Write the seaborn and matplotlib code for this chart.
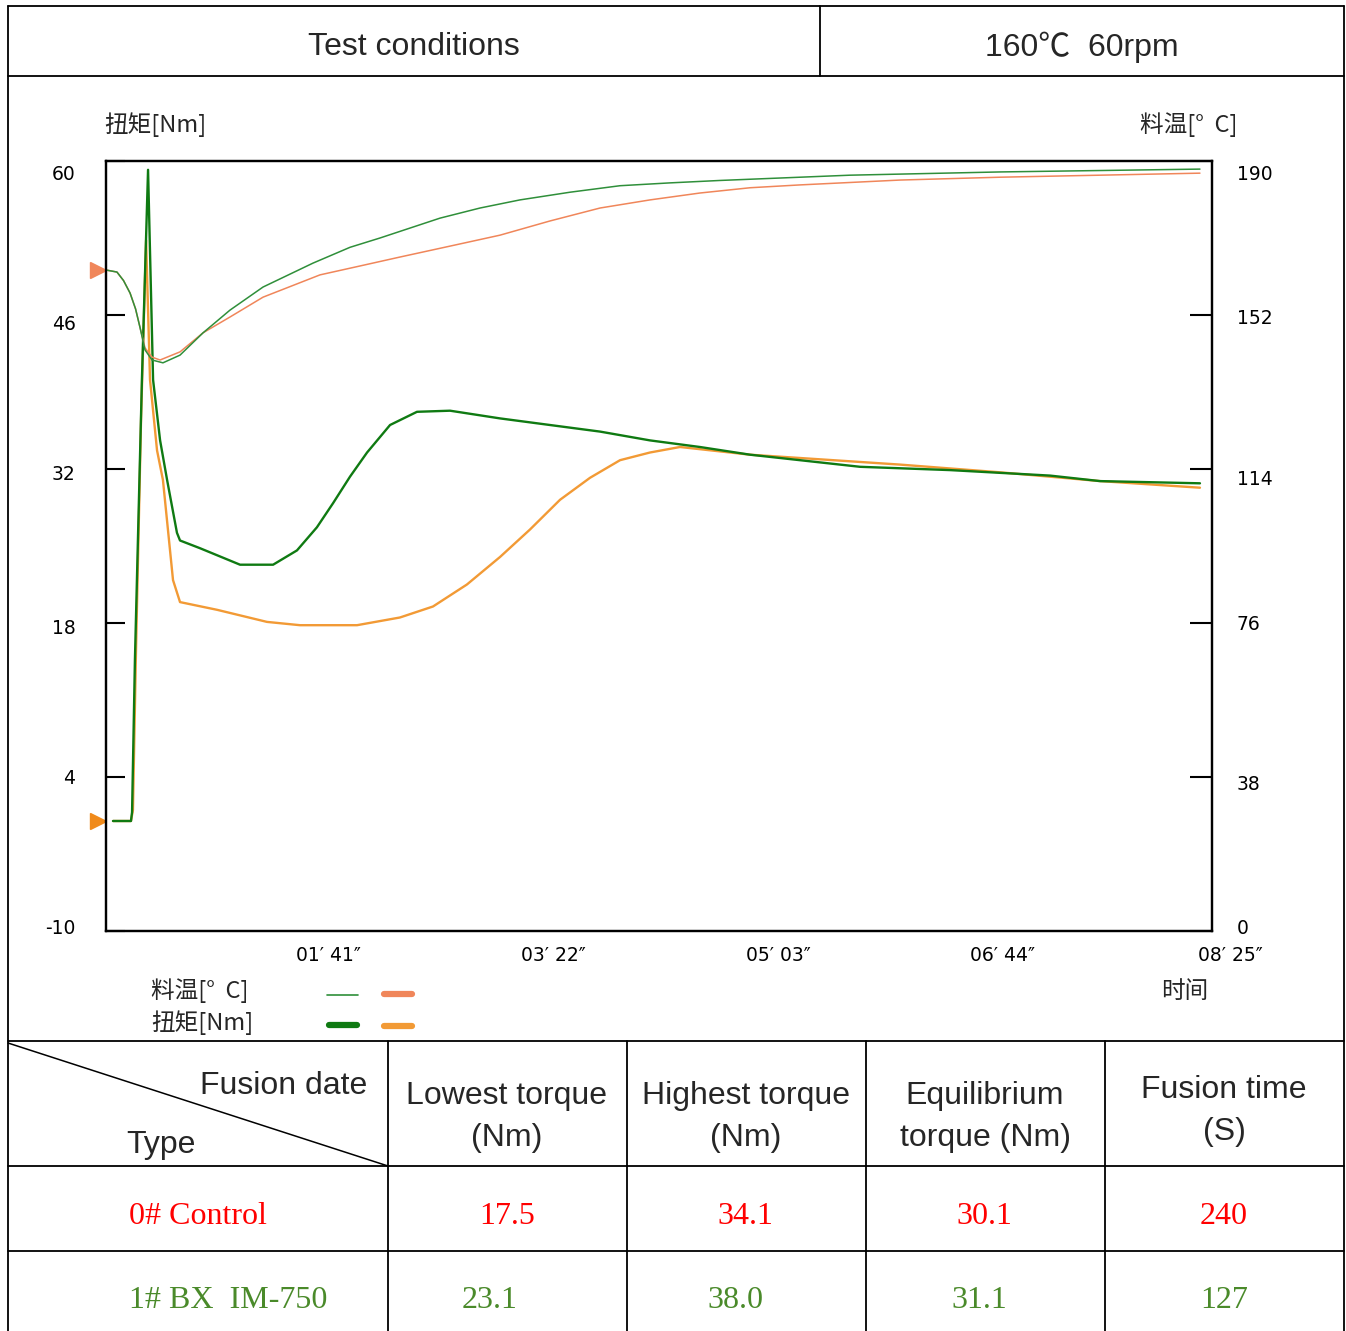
"""Torque / melt temperature rheometer curves with the result table around them."""

import matplotlib
matplotlib.use("Agg")
import matplotlib.pyplot as plt
import matplotlib.transforms as mtransforms
import pandas as pd
import seaborn as sns

W, H = 1346, 1331

# time in seconds, torque in Nm (left axis)
TORQUE_1_T = [3.2, 11.4, 11.9, 13.2, 16.4, 19.2, 21.5, 24.7, 27.9, 32.4, 33.8, 42.9, 61.2, 76.3,
              87.2, 96.3, 103.7, 111.4, 119.2, 129.7, 142.0, 157.1, 179.9, 202.7, 225.6, 248.4,
              271.2, 294.1, 316.9, 344.3, 385.4, 431.1, 453.9, 499.5]
TORQUE_1 = [0.0, 0.0, 0.8, 14.6, 40.1, 59.2, 40.1, 34.6, 31.0, 26.2, 25.5, 24.8, 23.3, 23.3,
            24.6, 26.7, 28.9, 31.3, 33.5, 36.0, 37.2, 37.3, 36.6, 36.0, 35.4, 34.6,
            34.0, 33.3, 32.8, 32.2, 31.9, 31.4, 30.9, 30.7]

TORQUE_0_T = [3.2, 11.4, 12.3, 13.7, 16.0, 18.3, 20.1, 23.3, 26.0, 30.6, 33.8, 50.7, 73.5, 88.6,
              114.6, 134.2, 149.3, 164.8, 179.9, 193.6, 207.3, 221.0, 234.7, 248.4, 262.1,
              294.1, 316.9, 362.6, 408.2, 453.9, 499.5]
TORQUE_0 = [0.0, 0.0, 1.0, 15.5, 36.5, 52.8, 40.1, 33.7, 31.0, 21.9, 19.9, 19.2, 18.1, 17.8,
            17.8, 18.5, 19.5, 21.5, 24.0, 26.5, 29.2, 31.2, 32.8, 33.5, 34.0,
            33.3, 33.0, 32.4, 31.7, 30.9, 30.3]

# melt temperature in deg C (right axis)
TEMP_1_T = [0.0, 5.0, 8.0, 11.0, 13.5, 15.5, 17.8, 21.0, 26.0, 33.8, 44.3, 56.6, 71.7, 94.5,
            111.4, 125.1, 152.5, 170.8, 189.0, 211.9, 234.7, 257.5, 280.4, 339.7, 408.2, 499.5]
TEMP_1 = [163.1, 162.6, 160.5, 157.4, 153.5, 149.0, 143.4, 140.9, 140.2, 142.1, 147.6, 153.2,
          158.9, 164.8, 168.7, 171.0, 175.9, 178.4, 180.4, 182.3, 183.9, 184.6, 185.2, 186.5,
          187.3, 188.0]

TEMP_0_T = [0.0, 5.0, 8.0, 11.0, 13.5, 15.5, 17.8, 21.0, 24.7, 33.8, 44.3, 56.6, 71.7, 97.7,
            116.0, 134.2, 157.1, 179.9, 202.7, 225.6, 248.4, 271.2, 294.1, 316.9, 362.6, 408.2,
            499.5]
TEMP_0 = [163.1, 162.6, 160.5, 157.4, 153.5, 149.0, 143.9, 141.6, 140.9, 142.9, 147.6, 151.5,
          156.4, 161.9, 164.1, 166.3, 169.0, 171.7, 175.2, 178.4, 180.4, 182.1, 183.4, 184.1,
          185.3, 186.0, 187.0]

X_TICKS = [101, 202, 303, 404, 505]
X_LABELS = ["01\u2032 41\u2033", "03\u2032 22\u2033", "05\u2032 03\u2033", "06\u2032 44\u2033",
            "08\u2032 25\u2033"]
TORQUE_TICKS = [-10, 4, 18, 32, 46, 60]
TEMP_TICKS = [0, 38, 76, 114, 152, 190]

# result table
SAMPLES = ["0# Control", "1# BX  IM-750"]
LOWEST = ["17.5", "23.1"]
HIGHEST = ["34.1", "38.0"]
EQUILIBRIUM = ["30.1", "31.1"]
FUSION_TIME = ["240", "127"]
ROW_COLORS = ["#ff0000", "#4a8a2a"]

GREEN_TQ = "#0f7a12"
GREEN_TMP = "#2f8f3a"
ORANGE_TQ = "#f29a35"
ORANGE_TMP = "#f0865a"

sns.set_style("white")
plt.rcParams['font.family'] = ['DejaVu Sans', 'Noto Sans CJK SC']
plt.rcParams['axes.unicode_minus'] = False
CJK = ['Noto Sans CJK SC', 'DejaVu Sans']
SANS = ['Liberation Sans', 'Noto Sans CJK SC']
SERIF = ['Liberation Serif', 'DejaVu Serif']

fig = plt.figure(figsize=(W / 100, H / 100), dpi=100)
fig.patch.set_facecolor("white")

# overlay in pixel coordinates for the table frame and free texts
bg = fig.add_axes([0, 0, 1, 1], zorder=0)
bg.set_xlim(0, W)
bg.set_ylim(H, 0)
bg.axis("off")

lw_tab = 1.3
for y in [6, 76, 1041, 1166, 1251]:
    bg.plot([8, 1344], [y, y], color="black", lw=lw_tab)
for x in [8, 1344]:
    bg.plot([x, x], [6, H], color="black", lw=lw_tab)
bg.plot([820, 820], [6, 76], color="black", lw=lw_tab)
for x in [388, 627, 866, 1105]:
    bg.plot([x, x], [1041, H], color="black", lw=lw_tab)
bg.plot([8, 388], [1043, 1166], color="black", lw=1.1)

FS = 23
bg.text(414, 47, "Test conditions", fontsize=FS, family=SANS, ha="center", va="center")
bg.text(1082, 47, "160\u2103  60rpm", fontsize=FS, family=SANS, ha="center", va="center")

bg.text(367, 1086, "Fusion date", fontsize=FS, family=SANS, ha="right", va="center")
bg.text(126, 1145, "Type", fontsize=FS, family=SANS, ha="left", va="center")
headers = [("Lowest torque", "(Nm)", 507), ("Highest torque", "(Nm)", 746),
           ("Equilibrium", "torque (Nm)", 985)]
for top, bottom, cx in headers:
    bg.text(cx, 1096, top, fontsize=FS, family=SANS, ha="center", va="center")
    bg.text(cx, 1138, bottom, fontsize=FS, family=SANS, ha="center", va="center")
bg.text(1224, 1090, "Fusion time", fontsize=FS, family=SANS, ha="center", va="center")
bg.text(1224, 1132, "(S)", fontsize=FS, family=SANS, ha="center", va="center")

row_y = [1217, 1301]
value_x = [[507, 745, 984, 1224], [490, 735, 979, 1224]]
for i, name in enumerate(SAMPLES):
    bg.text(129, row_y[i], name, fontsize=23, family=SERIF, color=ROW_COLORS[i],
            ha="left", va="center")
    vals = [LOWEST[i], HIGHEST[i], EQUILIBRIUM[i], FUSION_TIME[i]]
    for x, v in zip(value_x[i], vals):
        bg.text(x, row_y[i], v, fontsize=23, family=SERIF, color=ROW_COLORS[i],
                ha="center", va="center")

# chart labels
bg.text(104, 125, "扭矩[Nm]", fontsize=17, family=CJK, ha="left", va="center")
bg.text(1238, 125, "料温[°  C]", fontsize=17, family=CJK, ha="right", va="center")
bg.text(1185, 992, "时间", fontsize=17, family=CJK, ha="center", va="center")
bg.text(151, 991, "料温[°  C]", fontsize=17, family=CJK, ha="left", va="center")
bg.text(151, 1023, "扭矩[Nm]", fontsize=17, family=CJK, ha="left", va="center")
# legend samples
bg.plot([327, 358], [995, 995], color=GREEN_TMP, lw=1.2)
bg.plot([384, 412], [994, 994], color=ORANGE_TMP, lw=4.5, solid_capstyle="round")
bg.plot([329, 357], [1025, 1025], color=GREEN_TQ, lw=4.5, solid_capstyle="round")
bg.plot([384, 412], [1026, 1026], color=ORANGE_TQ, lw=4.5, solid_capstyle="round")

# main chart
ax = fig.add_axes([106 / W, 1 - 931 / H, (1212 - 106) / W, (931 - 161) / H], zorder=2)
ax2 = ax.twinx()

tq1 = pd.DataFrame({"t": TORQUE_1_T, "v": TORQUE_1})
tq0 = pd.DataFrame({"t": TORQUE_0_T, "v": TORQUE_0})
tp1 = pd.DataFrame({"t": TEMP_1_T, "v": TEMP_1})
tp0 = pd.DataFrame({"t": TEMP_0_T, "v": TEMP_0})

sns.lineplot(data=tq0, x="t", y="v", ax=ax, color=ORANGE_TQ, lw=1.7, estimator=None)
sns.lineplot(data=tq1, x="t", y="v", ax=ax, color=GREEN_TQ, lw=1.7, estimator=None)
sns.lineplot(data=tp0, x="t", y="v", ax=ax2, color=ORANGE_TMP, lw=1.1, estimator=None)
sns.lineplot(data=tp1, x="t", y="v", ax=ax2, color=GREEN_TMP, lw=1.1, estimator=None)

ax.set_xlim(0, 505)
ax.set_ylim(-10, 60)
ax2.set_ylim(0, 190)
for a in (ax, ax2):
    a.set_xlabel("")
    a.set_ylabel("")
    for s in a.spines.values():
        s.set_color("black")
        s.set_linewidth(1.6)

ax.set_xticks(X_TICKS)
ax.set_xticklabels(X_LABELS)
ax.set_yticks(TORQUE_TICKS)
ax2.set_yticks(TEMP_TICKS)
ax.tick_params(axis="x", direction="in", length=16, width=1.5, pad=11, labelsize=13.5,
               colors="black")
ax.tick_params(axis="y", direction="in", length=14, width=1.5, pad=22, labelsize=13.5,
               colors="black")
ax2.tick_params(axis="y", direction="in", length=16, width=1.5, pad=18, labelsize=13.5,
                colors="black")


def nudge(label, dx, dy):
    """Shift a tick label by pixels (the instrument software places them loosely)."""
    label.set_transform(label.get_transform()
                        + mtransforms.ScaledTranslation(dx / 100, -dy / 100,
                                                        fig.dpi_scale_trans))


for lab, (dx, dy) in zip(ax.get_xticklabels(), [(1, 0), (5, 0), (9, 0), (12, 0), (18, 0)]):
    nudge(lab, dx, dy)
for lab, dy in zip(ax.get_yticklabels(), [-5, 0, 3, 3, 7, 12]):
    nudge(lab, 0, dy)
for lab, dy in zip(ax2.get_yticklabels(), [-5, 5, -1, 8, 2, 12]):
    nudge(lab, 0, dy)

# start markers on the left spine
ax2.plot([-0.007], [TEMP_0[0]], marker=">", ms=11, color=ORANGE_TMP, clip_on=False,
         transform=ax2.get_yaxis_transform())
ax.plot([-0.007], [TORQUE_0[0]], marker=">", ms=11, color="#f08a1a", clip_on=False,
        transform=ax.get_yaxis_transform())

fig.savefig("out.png", dpi=100, facecolor="white")
